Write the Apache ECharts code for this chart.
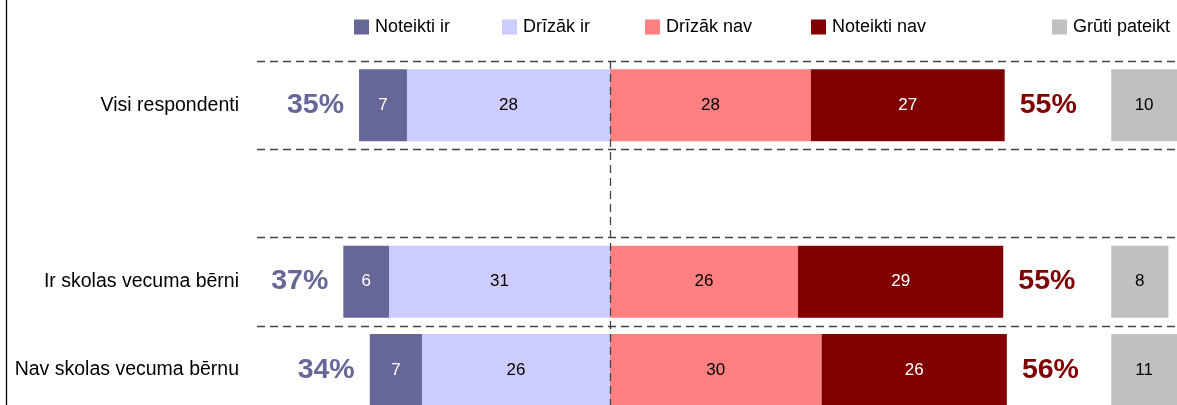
<!DOCTYPE html>
<html><head><meta charset="utf-8">
<script src="https://cdn.jsdelivr.net/npm/echarts@6/dist/echarts.min.js"></script>
<style>html,body{margin:0;padding:0;background:#fff;overflow:hidden}#c{width:1177px;height:414px}</style>
</head><body><div id="c"></div>
<script>
// ---- data ----
const categories = ['Visi respondenti', '', 'Ir skolas vecuma bērni', 'Nav skolas vecuma bērnu'];
const seriesNames = ['Noteikti ir', 'Drīzāk ir', 'Drīzāk nav', 'Noteikti nav', 'Grūti pateikt'];
const noteiktiIr = [6.7, null, 6.4, 7.3];
const drizakIr = [28.4, null, 30.9, 26.3];
const drizakNav = [28.1, null, 26.3, 29.6];
const noteiktiNav = [27.1, null, 28.7, 25.9];
const grutiPateikt = [10, null, 8, 11];
const totalIr = [35, null, 37, 34];   // shown percentages
const totalNav = [55, null, 55, 56];

// ---- style ----
const colors = ['#666699', '#ccccff', '#ff8080', '#800000', '#c0c0c0'];
const FONT = "'Liberation Sans',Arial,sans-serif";
const X_MIN = -49.37, X_MAX = 79.3, GRAY_OFFSET = 70.1;

const neg = a => a.map(v => v == null ? null : -v);
const inLabel = (color) => ({
  show: true, position: 'inside', color: color, fontFamily: FONT, fontSize: 17,
  formatter: p => p.value == null ? '' : String(Math.round(Math.abs(p.value)))
});

const chart = echarts.init(document.getElementById('c'), null, {renderer: 'canvas'});
const legendPos = [354, 502, 645, 811, 1052];
const legends = seriesNames.map((n, i) => ({
  data: [n], left: legendPos[i], top: 18, itemWidth: 15, itemHeight: 15, itemGap: 0,
  icon: 'rect', padding: 0,
  textStyle: {fontFamily: FONT, fontSize: 18, color: '#000', padding: [0, 0, 0, 1]}
}));

const totalLabel = (pos, color, arr) => ({
  show: true, position: pos, distance: 15, fontFamily: FONT, fontSize: 28.5, fontWeight: 'bold',
  color: color, opacity: 1, formatter: p => arr[p.dataIndex] + '%'
});

chart.setOption({
  animation: false,
  backgroundColor: '#fff',
  color: colors,
  legend: legends,
  grid: {left: 257, right: 0, top: 61, bottom: 0, containLabel: false, outerBoundsMode: 'none'},
  xAxis: [
    {type: 'value', min: X_MIN, max: X_MAX, show: false, splitLine: {show: false}},
    {type: 'value', min: X_MIN - GRAY_OFFSET, max: X_MAX - GRAY_OFFSET, show: false, splitLine: {show: false}}
  ],
  yAxis: {
    type: 'category', inverse: true, data: categories,
    axisLine: {show: false}, axisTick: {show: false},
    axisLabel: {fontFamily: FONT, fontSize: 19.5, color: '#000', margin: 18},
    splitLine: {show: true, lineStyle: {type: [8, 5], color: '#444', width: 1.3}}
  },
  graphic: [{type: 'line', shape: {x1: 6.5, y1: 0, x2: 6.5, y2: 414}, style: {stroke: '#000', lineWidth: 1.3}, z: 100}],
  series: [
    {name: 'Drīzāk ir', type: 'bar', stack: 's', barWidth: 72, barGap: '-100%', data: neg(drizakIr),
     itemStyle: {color: colors[1]}, label: inLabel('#000'),
     markLine: {silent: true, symbol: 'none', label: {show: false},
       lineStyle: {type: [8, 5], color: '#444', width: 1.3}, data: [{xAxis: 0}]}},
    {name: 'Noteikti ir', type: 'bar', stack: 's', barWidth: 72, barGap: '-100%', data: neg(noteiktiIr),
     itemStyle: {color: colors[0]}, label: inLabel('#fff')},
    {name: 'Drīzāk nav', type: 'bar', stack: 's', barWidth: 72, barGap: '-100%', data: drizakNav,
     itemStyle: {color: colors[2]}, label: inLabel('#000')},
    {name: 'Noteikti nav', type: 'bar', stack: 's', barWidth: 72, barGap: '-100%', data: noteiktiNav,
     itemStyle: {color: colors[3]}, label: inLabel('#fff')},
    {name: 'Grūti pateikt', type: 'bar', xAxisIndex: 1, barWidth: 72, barGap: '-100%', data: grutiPateikt,
     itemStyle: {color: colors[4]}, label: inLabel('#000')},
    {name: 'totalIr', type: 'scatter', symbolSize: 0.1, itemStyle: {color: 'transparent', opacity: 1},
     data: categories.map((c, i) => noteiktiIr[i] == null ? null : [-(noteiktiIr[i] + drizakIr[i]), i]),
     label: totalLabel('left', colors[0], totalIr)},
    {name: 'totalNav', type: 'scatter', symbolSize: 0.1, itemStyle: {color: 'transparent', opacity: 1},
     data: categories.map((c, i) => drizakNav[i] == null ? null : [drizakNav[i] + noteiktiNav[i], i]),
     label: totalLabel('right', colors[3], totalNav)}
  ]
});
</script></body></html>
